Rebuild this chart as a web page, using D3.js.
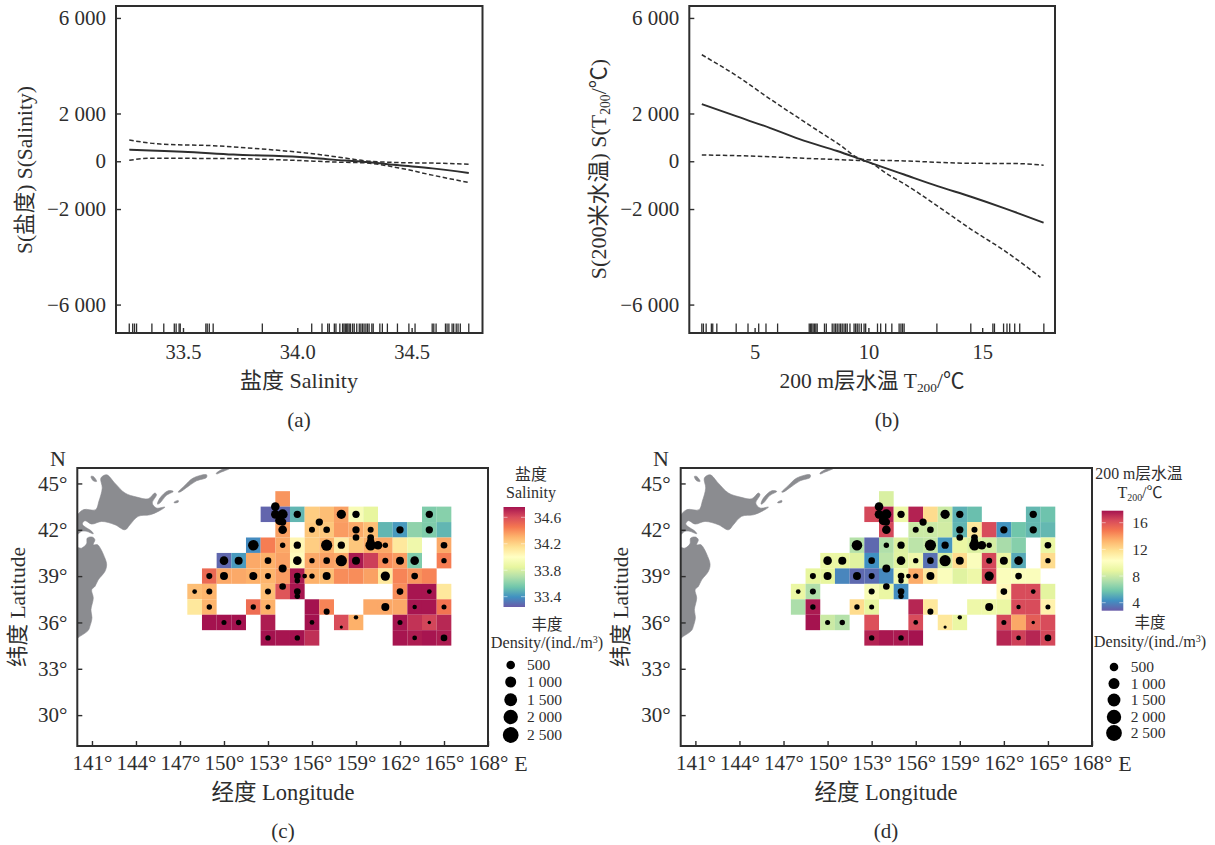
<!DOCTYPE html>
<html lang="en">

<head>
    <meta charset="UTF-8" />
    <title>GAM smooth terms and density maps</title>
    <script type="text/javascript" src="https://cdn.jsdelivr.net/npm/d3@7"></script>
    <style>
        body { margin: 0; background: #fff; }
        svg { display: block; }
        text { font-family: "Liberation Serif", "Noto Sans CJK SC", serif; fill: #2e2e2e; }
    </style>
</head>

<body>
    <script type="text/javascript">
        // ---- data ----
        const yTicksGam = [-6000, -2000, 0, 2000, 6000];

        // panel (a) salinity smooth
        const salinityX = [33.265, 33.356, 33.5, 33.72, 34.01, 34.155, 34.3, 34.445, 34.59, 34.75];
        const salinityFit = [486, 450, 400, 280, 180, 70, -30, -170, -300, -490];
        const salinityUpperX = [33.265, 33.4, 33.632, 33.864, 34.08, 34.227, 34.3, 34.445, 34.634, 34.75];
        const salinityUpper = [890, 720, 650, 500, 300, 110, 15, -55, -85, -125];
        const salinityLowerX = [33.265, 33.356, 33.72, 34.01, 34.155, 34.3, 34.445, 34.59, 34.75];
        const salinityLower = [40, 125, 110, 30, -30, -70, -280, -580, -890];
        const salinityRug = [33.265, 33.28, 33.288, 33.297, 33.364, 33.416, 33.462, 33.47, 33.483, 33.488, 33.6, 33.606, 33.615, 33.632, 33.847, 34.063, 34.108, 34.133, 34.14, 34.162, 34.169, 34.186, 34.198, 34.204, 34.21, 34.216, 34.221, 34.227, 34.233, 34.242, 34.249, 34.26, 34.271, 34.278, 34.285, 34.292, 34.3, 34.307, 34.314, 34.326, 34.332, 34.361, 34.372, 34.394, 34.438, 34.488, 34.515, 34.59, 34.597, 34.607, 34.648, 34.655, 34.663, 34.677, 34.684, 34.695, 34.703, 34.713, 34.75];

        // panel (b) 200 m temperature smooth
        const tempX = [2.68, 4.22, 5.69, 7.16, 8.63, 9.81, 11.57, 13.04, 14.51, 15.99, 17.7];
        const tempFit = [2390, 1875, 1390, 860, 430, 30, -555, -1040, -1485, -1970, -2570];
        const tempUpperX = [2.68, 4.22, 5.69, 7.16, 8.63, 9.81, 11.57, 14.51, 16.43, 17.7];
        const tempUpper = [4460, 3570, 2600, 1670, 760, 70, 15, -85, -95, -165];
        const tempLowerX = [2.68, 5.1, 7.16, 8.63, 9.81, 10.98, 11.57, 13.04, 14.51, 15.99, 17.56];
        const tempLower = [265, 210, 125, 70, 15, -625, -945, -1875, -2850, -3750, -4860];
        const tempRug = [2.68, 2.75, 2.87, 3.1, 3.16, 3.34, 4.19, 4.71, 5.18, 5.5, 6.01, 7.4, 7.46, 7.51, 7.57, 7.63, 7.69, 7.75, 8.07, 8.15, 8.41, 8.49, 8.56, 8.63, 8.71, 8.78, 8.85, 8.93, 9, 9.07, 9.19, 9.37, 9.44, 9.51, 9.59, 9.69, 9.81, 9.88, 10.4, 10.54, 10.76, 11.03, 11.35, 11.43, 11.5, 11.57, 13.01, 14.5, 15.47, 15.54, 15.94, 16.09, 16.21, 16.43, 16.65, 17.71];

        // map grid, one degree cells
        const gridLon = [148, 149, 150, 151, 152, 153, 154, 155, 156, 157, 158, 159, 160, 161, 162, 163, 164, 165];
        const gridLat = [44, 43, 42, 41, 40, 39, 38, 37, 36, 35];
        const _ = null;
        const salinityGrid = [
            [_, _, _, _, _, _, 34.38, _, _, _, _, _, _, _, _, _, _, _],
            [_, _, _, _, _, 33.27, 33.28, 33.5, 34.22, 34.27, 34.35, 33.95, 33.85, _, _, _, 33.58, 33.6],
            [_, _, _, _, _, _, 34.35, _, 34.24, 34.24, 34.36, 34.33, 34.27, 33.5, 33.42, 33.62, 33.58, 33.5],
            [_, _, _, _, 33.38, 34.44, 34.33, 34.05, 34.22, 34.3, 34.1, 34.24, 34.31, 34.33, 34.12, 33.9, _, 34.33],
            [_, _, 33.28, 33.42, 34.33, 34.31, 34.35, 34.02, 34.33, 34.35, 34.33, 34.74, 34.64, 34.4, 34.36, 33.58, _, 34.44],
            [_, 34.5, 34.33, 34.33, 34.31, 34.3, 34.36, 34.74, 34.31, 34.27, 34.4, 34.4, 34.35, 34.12, 34.42, 34.38, 34.42, _],
            [34.27, 34.3, _, _, _, 34.27, 34.57, 34.75, _, _, _, _, _, _, 34.4, 34.75, 34.75, 34.12],
            [34.12, 34.3, _, _, 34.49, 34.31, _, _, 34.76, 34.42, _, _, 34.33, 34.33, 34.33, 34.75, 34.75, 34.47],
            [_, 34.76, 34.76, 34.76, _, 34.73, _, _, 34.76, _, 34.6, 34.31, _, _, 34.75, 34.67, 34.62, 34.7],
            [_, _, _, _, _, 34.76, 34.75, 34.76, 34.68, _, _, _, _, _, 34.75, 34.73, 34.75, 34.73]
        ];
        const tempGrid = [
            [_, _, _, _, _, _, 8.4, _, _, _, _, _, _, _, _, _, _, _],
            [_, _, _, _, _, 16.4, 17.4, 9.2, 17.4, 12, 8, 5.2, 5.6, _, _, _, 5.4, 5.7],
            [_, _, _, _, _, _, 16.4, _, 8, 8, 8.2, 5.3, 11.5, 16.3, 4.4, 5.8, 5.4, 5.4],
            [_, _, _, _, 7.4, 3.2, 7.3, 8.5, 7.6, 7.8, 4.5, 9, 8.5, 8.3, 7.1, 6.3, _, 9],
            [_, _, 9, 9, 8.6, 4.3, 7.6, 8.6, 9.3, 3.4, 8.3, 12, 10, 16.4, 9, 5, _, 12],
            [_, 8.8, 8.8, 4, 3.2, 3.3, 4.1, 9.5, 13.5, 11.5, 10, 8.6, 9.2, 16.4, 10, 10, 10, _],
            [9, 7.3, _, _, _, 9.8, 9, 4.2, _, _, _, _, _, _, 10.6, 16.3, 16.3, 8.7],
            [7.2, 17.6, _, _, 12, 8.8, _, _, 17.3, 11.5, _, _, 9.2, 9.2, 9, 16.3, 16.3, 11],
            [_, 17.8, 8, 7.4, _, 16.1, _, _, 16.3, _, 11.5, 9, _, _, 16.4, 13.6, 15.7, 16.3],
            [_, _, _, _, _, 17.4, 17.7, 17.6, 17.8, _, _, _, _, _, 17.3, 16.6, 17.3, 16.4]
        ];

        // sampling stations, same for both maps
        const stationLon = [153.5, 153.5, 154, 153.8, 154, 154, 155, 158, 159, 164, 156.5, 156, 157, 159, 160, 162, 164, 159, 160, 160, 152, 154, 155, 157, 158, 160, 160.5, 161, 165, 150, 151, 153, 155, 156, 157, 158, 159, 161, 162, 163, 165, 149, 150, 152, 153, 154, 155, 155.5, 156, 157, 161, 163, 155, 148, 149, 153, 154, 155, 155, 162, 164, 149, 152, 153, 157, 161, 163, 165, 150, 151, 156, 159, 158, 162, 164, 153, 155, 163, 165];
        const stationLat = [43.5, 43, 43, 42.6, 42.5, 42, 43, 43, 43, 43, 42.5, 42, 42, 42, 42, 42, 42, 41.5, 41.5, 41.25, 41, 41, 41, 41, 41, 41, 41, 41, 41, 40, 40, 40, 40, 40, 40, 40, 40, 40, 40, 40, 40, 39, 39, 39, 39, 39.5, 39, 39, 39, 39, 39, 39, 38.7, 38, 38, 38, 38.33, 38, 37.7, 38, 38, 37, 37, 37, 36.7, 37, 37, 37, 36, 36, 36, 36.33, 35.7, 36, 36, 35, 35, 35, 35];
        const stationDensity = [500, 500, 750, 620, 300, 500, 300, 620, 300, 300, 300, 155, 220, 300, 155, 300, 300, 220, 220, 300, 890, 100, 300, 1045, 300, 890, 500, 100, 220, 500, 400, 220, 500, 100, 220, 1045, 400, 155, 400, 500, 100, 155, 400, 400, 155, 400, 220, 55, 100, 400, 620, 220, 100, 55, 155, 155, 220, 220, 100, 220, 55, 100, 100, 75, 155, 400, 38, 75, 75, 100, 55, 38, 2, 75, 6, 100, 100, 55, 220];
        const densityLegend = [500, 1000, 1500, 2000, 2500];

        // land outlines as lon, lat pairs
        const landHokkaido = [[139.9, 42.76], [140.41, 43.3], [141.25, 43.3], [141.47, 43.84], [141.7, 44.7], [141.61, 45.35], [142, 45.56], [142.56, 45.02], [143.25, 44.38], [144.04, 44.12], [144.84, 44.01], [145.29, 44.38], [145.4, 44.27], [145.11, 43.73], [145.4, 43.41], [145.97, 43.47], [145.52, 43.19], [144.95, 42.97], [144.15, 42.87], [143.59, 42.33], [143.25, 42], [142.56, 42.33], [141.66, 42.54], [140.98, 42.37], [140.52, 42.59], [140.34, 42.37], [140.98, 41.9], [141.09, 41.74], [140.63, 41.9], [140.29, 41.9], [139.9, 41.64]];
        const landHonshu = [[139.9, 40.81], [140.29, 40.81], [140.63, 41.09], [140.68, 41.46], [141.02, 41.53], [141.2, 41.35], [141.09, 41.03], [141.38, 41.03], [141.88, 40.17], [142, 39.73], [141.88, 39.3], [141.43, 38.76], [141.2, 38.33], [140.98, 38.12], [141.09, 37.58], [140.93, 36.82], [141, 36.3], [140.86, 35.75], [140.75, 35.49], [140.18, 35.1], [139.9, 34.95]];
        const landRishiri = [[140.93, 45.45], [141.09, 45.45], [141.32, 45.13], [141.09, 45.17]];
        const landKunashir = [[145.47, 43.66], [145.63, 44.05], [146.2, 44.53], [146.54, 44.48], [146.08, 44.23], [145.63, 43.73]];
        const landIturup = [[146.88, 44.44], [147.33, 44.87], [147.9, 45.35], [148.81, 45.56], [148.81, 45.39], [148.13, 45.17], [147.56, 44.81], [146.99, 44.44]];
        const landUrup = [[149.49, 45.67], [149.94, 45.93], [150.4, 45.97], [149.83, 45.74], [149.49, 45.61]];
        const landShikotan = [[146.6, 43.79], [146.88, 43.9], [146.88, 43.79], [146.6, 43.75]];
        const landParts = [landHokkaido, landHonshu, landRishiri, landKunashir, landIturup, landUrup, landShikotan];

        const lonTicks = [141, 144, 147, 150, 153, 156, 159, 162, 165, 168];
        const latTicks = [30, 33, 36, 39, 42, 45];
        const salinityTicks = [33.4, 33.8, 34.2, 34.6];
        const tempTicks = [4, 8, 12, 16];

        // ---- drawing ----
        const svg = d3.select("body").append("svg")
            .attr("width", 1215)
            .attr("height", 845);

        const ink = "#2e2e2e";
        const tileOpacity = 0.93;

        function label(x, y, txt, size, anchor) {
            return svg.append("text")
                .attr("x", x).attr("y", y)
                .attr("font-size", size)
                .attr("text-anchor", anchor || "middle")
                .text(txt);
        }

        function subLabel(t, parts, size) {
            // parts: [text, isSubscript]; dy is reset after each subscript
            let drop = 0;
            parts.forEach(function (p) {
                t.append("tspan")
                    .attr("dy", (p[1] ? size * 0.18 : -drop))
                    .attr("font-size", p[1] ? size * 0.62 : size)
                    .text(p[0]);
                drop = p[1] ? size * 0.18 : 0;
            });
        }

        function spaced(d) {
            return (d < 0 ? "\u2212" : "") + d3.format(",")(Math.abs(d)).replace(",", " ");
        }

        function styleAxis(g, size) {
            g.select(".domain").remove();
            g.selectAll("line").attr("stroke", ink).attr("stroke-width", 1.4);
            g.selectAll("text").attr("font-size", size).attr("fill", ink)
                .style("font-family", '"Liberation Serif", "Noto Sans CJK SC", serif');
        }

        function frame(x0, x1, y0, y1) {
            svg.append("rect")
                .attr("x", x0).attr("y", y0)
                .attr("width", x1 - x0).attr("height", y1 - y0)
                .attr("fill", "none").attr("stroke", ink).attr("stroke-width", 2);
        }

        function gamPanel(o) {
            const x = d3.scaleLinear().domain(o.xDomain).range([o.left, o.right]);
            const y = d3.scaleLinear().domain([-7190, 6500]).range([333, 6]);

            svg.append("g")
                .attr("transform", "translate(0,333)")
                .call(d3.axisBottom(x).tickValues(o.xTicks).tickFormat(o.xFormat)
                    .tickSizeInner(-5).tickSizeOuter(0).tickPadding(11))
                .call(styleAxis, 20.5);

            svg.append("g")
                .attr("transform", `translate(${o.left},0)`)
                .call(d3.axisLeft(y).tickValues(yTicksGam).tickFormat(spaced)
                    .tickSizeInner(-5).tickSizeOuter(0).tickPadding(10))
                .call(styleAxis, 21);

            const line = d3.line()
                .x(function (d) { return x(d[0]); })
                .y(function (d) { return y(d[1]); })
                .curve(d3.curveMonotoneX);

            o.curves.forEach(function (c) {
                svg.append("path")
                    .attr("d", line(d3.zip(c.xs, c.ys)))
                    .attr("fill", "none")
                    .attr("stroke", ink)
                    .attr("stroke-width", c.dash ? 1.5 : 1.9)
                    .attr("stroke-dasharray", c.dash ? "4.5,2.5" : null);
            });

            svg.append("g").selectAll("line")
                .data(o.rug)
                .enter().append("line")
                .attr("x1", function (d) { return x(d); })
                .attr("x2", function (d) { return x(d); })
                .attr("y1", 333)
                .attr("y2", 323.5)
                .attr("stroke", ink)
                .attr("stroke-width", 1.3);

            frame(o.left, o.right, 6, 333);
        }

        function mapPanel(o) {
            const x = d3.scaleLinear().domain([140, 168]).range([o.left, o.right]);
            const y = d3.scaleLinear().domain([28, 46]).range([746, 468]);
            const clipId = "clip" + o.left;

            svg.append("clipPath").attr("id", clipId)
                .append("rect")
                .attr("x", o.left).attr("y", 468)
                .attr("width", o.right - o.left).attr("height", 278);

            const land = d3.line()
                .x(function (d) { return x(d[0]); })
                .y(function (d) { return y(d[1]); })
                .curve(d3.curveCatmullRomClosed.alpha(0.5));

            svg.append("g").attr("clip-path", `url(#${clipId})`)
                .selectAll("path")
                .data(landParts)
                .enter().append("path")
                .attr("d", land)
                .attr("fill", "#8b8c90")
                .attr("stroke", "#8b8c90")
                .attr("stroke-width", 0.6);

            // tiles
            const cells = [];
            gridLat.forEach(function (lat, i) {
                gridLon.forEach(function (lon, j) {
                    if (o.grid[i][j] !== null) cells.push({ lon: lon, lat: lat, v: o.grid[i][j] });
                });
            });
            svg.append("g").selectAll("rect")
                .data(cells)
                .enter().append("rect")
                .attr("x", function (d) { return x(d.lon - 0.5); })
                .attr("y", function (d) { return y(d.lat + 0.5); })
                .attr("width", x(1) - x(0))
                .attr("height", y(0) - y(1))
                .attr("fill", function (d) { return o.color(d.v); })
                .attr("fill-opacity", tileOpacity);

            // stations
            svg.append("g").selectAll("circle")
                .data(stationLon)
                .enter().append("circle")
                .attr("cx", function (d) { return x(d); })
                .attr("cy", function (d, i) { return y(stationLat[i]); })
                .attr("r", function (d, i) { return radius(stationDensity[i]); })
                .attr("fill", "#000");

            svg.append("g")
                .attr("transform", "translate(0,746)")
                .call(d3.axisBottom(x).tickValues(lonTicks).tickFormat(function (d) { return d + "°"; })
                    .tickSizeInner(-5).tickSizeOuter(0).tickPadding(9))
                .call(styleAxis, 21);

            svg.append("g")
                .attr("transform", `translate(${o.left},0)`)
                .call(d3.axisLeft(y).tickValues(latTicks).tickFormat(function (d) { return d + "°"; })
                    .tickSizeInner(-5).tickSizeOuter(0).tickPadding(10))
                .call(styleAxis, 21);

            frame(o.left, o.right, 468, 746);
        }

        function colourBar(o) {
            const barY = d3.scaleLinear().domain(o.domain).range([o.y1, o.y0]);
            const gradId = "grad" + o.x0;
            const grad = svg.append("defs").append("linearGradient")
                .attr("id", gradId)
                .attr("x1", 0).attr("x2", 0).attr("y1", 1).attr("y2", 0);
            grad.selectAll("stop")
                .data(d3.range(0, 1.001, 0.05))
                .enter().append("stop")
                .attr("offset", function (d) { return d; })
                .attr("stop-color", function (d) { return o.color(o.domain[0] + d * (o.domain[1] - o.domain[0])); })
                .attr("stop-opacity", tileOpacity);
            svg.append("rect")
                .attr("x", o.x0).attr("y", o.y0)
                .attr("width", o.x1 - o.x0).attr("height", o.y1 - o.y0)
                .attr("fill", `url(#${gradId})`);
            o.ticks.forEach(function (t) {
                [[o.x0, o.x0 + 4], [o.x1 - 4, o.x1]].forEach(function (s) {
                    svg.append("line")
                        .attr("x1", s[0]).attr("x2", s[1])
                        .attr("y1", barY(t)).attr("y2", barY(t))
                        .attr("stroke", "#fff").attr("stroke-opacity", 0.5);
                });
                label(o.x1 + 9, barY(t) + 5.5, t, 15.5, "start");
            });
        }

        function densityKey(cx, labelX, ys) {
            densityLegend.forEach(function (d, i) {
                svg.append("circle")
                    .attr("cx", cx).attr("cy", ys[i])
                    .attr("r", radius(d)).attr("fill", "#000");
                label(labelX, ys[i] + 5, spaced(d), 15.5, "start");
            });
        }

        function subLabelDensity(x, y) {
            const t = svg.append("text")
                .attr("x", x).attr("y", y)
                .attr("text-anchor", "middle")
                .attr("font-size", 16.2);
            t.append("tspan").text("Density/(ind./m");
            t.append("tspan").attr("dy", -5).attr("font-size", 10).text("3");
            t.append("tspan").attr("dy", 5).text(")");
        }

        const radius = d3.scaleSqrt().domain([0, 2500]).range([1.4, 7.9]);
        // ramp through the 11 Spectral classes, reversed so red is high
        const spectralRamp = d3.scaleLinear()
            .domain(d3.range(0, 1.001, 0.1))
            .range(d3.schemeSpectral[11].slice().reverse())
            .interpolate(d3.interpolateRgb);
        const salinityColor = d3.scaleSequential(spectralRamp).domain([33.244, 34.756]);
        const tempColor = d3.scaleSequential(spectralRamp).domain([2.8, 17.8]);

        gamPanel({
            left: 116, right: 482.5,
            xDomain: [33.207, 34.81],
            xTicks: [33.5, 34, 34.5],
            xFormat: d3.format(".1f"),
            curves: [
                { xs: salinityX, ys: salinityFit, dash: false },
                { xs: salinityUpperX, ys: salinityUpper, dash: true },
                { xs: salinityLowerX, ys: salinityLower, dash: true }
            ],
            rug: salinityRug
        });

        gamPanel({
            left: 689.3, right: 1055,
            xDomain: [2.13, 18.2],
            xTicks: [5, 10, 15],
            xFormat: d3.format("d"),
            curves: [
                { xs: tempX, ys: tempFit, dash: false },
                { xs: tempUpperX, ys: tempUpper, dash: true },
                { xs: tempLowerX, ys: tempLower, dash: true }
            ],
            rug: tempRug
        });

        mapPanel({ left: 77.3, right: 488, grid: salinityGrid, color: salinityColor });
        mapPanel({ left: 680.7, right: 1092, grid: tempGrid, color: tempColor });

        // panel labels and axis titles
        svg.append("text")
            .attr("transform", "translate(32,170) rotate(-90)")
            .attr("font-size", 21.5).attr("text-anchor", "middle")
            .text("S(盐度) S(Salinity)");
        label(299, 388, "盐度 Salinity", 22);
        label(299, 427, "(a)", 21);

        subLabel(svg.append("text")
            .attr("transform", "translate(606,169) rotate(-90)")
            .attr("text-anchor", "middle"),
            [["S(200米水温) S(T", false], ["200", true], ["/℃)", false]], 22);
        subLabel(svg.append("text")
            .attr("x", 872).attr("y", 388).attr("text-anchor", "middle"),
            [["200 m层水温 T", false], ["200", true], ["/℃", false]], 21.5);
        label(887, 427, "(b)", 21);

        label(58, 466, "N", 22);
        label(521, 771, "E", 22);
        label(661, 466, "N", 22);
        label(1125, 771, "E", 22);

        svg.append("text")
            .attr("transform", "translate(25,607) rotate(-90)")
            .attr("font-size", 21.5).attr("text-anchor", "middle")
            .text("纬度 Latitude");
        svg.append("text")
            .attr("transform", "translate(628,607) rotate(-90)")
            .attr("font-size", 21.5).attr("text-anchor", "middle")
            .text("纬度 Latitude");
        label(283, 800, "经度 Longitude", 22.5);
        label(886, 800, "经度 Longitude", 22.5);
        label(283, 838, "(c)", 21);
        label(886, 838, "(d)", 21);

        // legend (c)
        label(531, 480, "盐度", 16);
        label(531, 498, "Salinity", 16);
        colourBar({ x0: 503.5, x1: 525, y0: 507, y1: 607, domain: [33.244, 34.756], ticks: salinityTicks, color: salinityColor });
        label(547, 630, "丰度", 15.5);
        subLabelDensity(547, 648);
        densityKey(510.7, 527, [665, 682, 699.7, 717, 735]);

        // legend (d)
        label(1139, 479, "200 m层水温", 15.8);
        subLabel(svg.append("text")
            .attr("x", 1140).attr("y", 498).attr("text-anchor", "middle"),
            [["T", false], ["200", true], ["/℃", false]], 16);
        colourBar({ x0: 1101.7, x1: 1123.3, y0: 510.7, y1: 610.7, domain: [2.8, 17.8], ticks: tempTicks, color: tempColor });
        label(1150, 628, "丰度", 15.5);
        subLabelDensity(1150, 647);
        densityKey(1114, 1130.7, [667, 683.6, 700, 717, 733]);
    </script>
</body>

</html>
